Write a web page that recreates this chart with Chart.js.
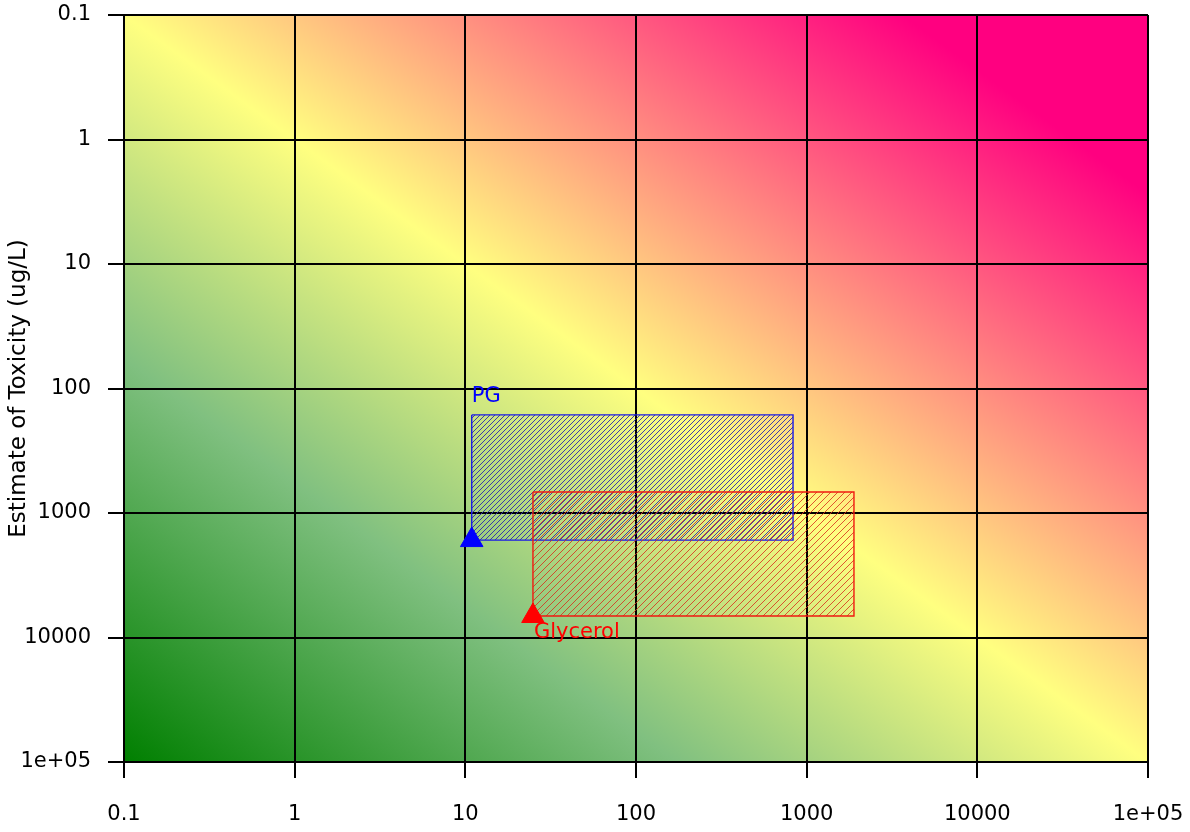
<!DOCTYPE html>
<html>
<head>
<meta charset="utf-8">
<script src="https://cdn.jsdelivr.net/npm/chart.js@4.4.1/dist/chart.umd.min.js"></script>
<style>
  html, body { margin: 0; padding: 0; background: #ffffff; }
  #wrap { width: 1190px; height: 832px; position: relative; }
</style>
</head>
<body>
<div id="wrap"><canvas id="chart" width="1190" height="832"></canvas></div>
<script>
// Axis decades and their printed labels
const xTicks = [0.1, 1, 10, 100, 1000, 10000, 100000];
const xTickLabels = ['0.1', '1', '10', '100', '1000', '10000', '1e+05'];
const yTicks = [0.1, 1, 10, 100, 1000, 10000, 100000];
const yTickLabels = ['0.1', '1', '10', '100', '1000', '10000', '1e+05'];
const yTitle = 'Estimate of Toxicity (ug/L)';

// Substances: concentration ranges (x) and toxicity ranges (y)
const substances = ['PG', 'Glycerol'];
const concLow = [10.9, 24.9];
const concHigh = [832, 1893];
const toxLow = [163, 678];
const toxHigh = [1650, 6720];
// Point estimates (triangles)
const pointConc = [10.9, 24.9];
const pointTox = [1650, 6720];

const lineColors = ['#1a1ae6', '#f01a10'];
const hatchColors = ['rgba(40,40,175,0.9)', 'rgba(215,45,25,0.8)'];
const hatchSpacing = [5, 7];
const markerColors = ['#0000ff', '#ff0000'];

function hatchPattern(color, s) {
  const c = document.createElement('canvas');
  c.width = s; c.height = s;
  const g = c.getContext('2d');
  g.strokeStyle = color;
  g.lineWidth = 1;
  g.beginPath();
  g.moveTo(0, s); g.lineTo(s, 0);
  g.moveTo(-1, 1); g.lineTo(1, -1);
  g.moveTo(s - 1, s + 1); g.lineTo(s + 1, s - 1);
  g.stroke();
  return document.getElementById('chart').getContext('2d').createPattern(c, 'repeat');
}

const rectDatasets = substances.map((name, i) => ({
  type: 'line',
  label: name + ' range',
  data: [
    { x: concLow[i], y: toxLow[i] },
    { x: concHigh[i], y: toxLow[i] },
    { x: concHigh[i], y: toxHigh[i] },
    { x: concLow[i], y: toxHigh[i] },
    { x: concLow[i], y: toxLow[i] }
  ],
  borderColor: lineColors[i],
  borderWidth: 1.4,
  backgroundColor: hatchPattern(hatchColors[i], hatchSpacing[i]),
  fill: 'shape',
  pointRadius: 0,
  tension: 0,
  order: 2 - i
}));

const pointDatasets = substances.map((name, i) => ({
  type: 'scatter',
  label: name,
  data: [{ x: pointConc[i], y: pointTox[i] }],
  pointStyle: 'triangle',
  pointRadius: 13,
  pointBackgroundColor: markerColors[i],
  pointBorderColor: markerColors[i],
  pointBorderWidth: 1,
  order: 0
}));

// Diagonal background: green (low concentration / low toxicity) to pink
const backdrop = {
  id: 'backdrop',
  beforeDraw(chart) {
    const { ctx, chartArea: a } = chart;
    const w = a.right - a.left, h = a.bottom - a.top;
    const len = Math.sqrt(w * w + h * h);
    const nx = h / len, ny = -w / len;
    const d = 2 * w * h / len;
    const g = ctx.createLinearGradient(a.left, a.bottom, a.left + nx * d, a.bottom + ny * d);
    g.addColorStop(0, '#007f00');
    g.addColorStop(0.27, '#80c080');
    g.addColorStop(0.5, '#ffff80');
    g.addColorStop(0.88, '#ff0080');
    g.addColorStop(1, '#ff0080');
    ctx.save();
    ctx.fillStyle = g;
    ctx.fillRect(a.left, a.top, w, h);
    ctx.restore();
  }
};

// Substance names next to their ranges
const nameLabels = {
  id: 'nameLabels',
  afterDatasetsDraw(chart) {
    const { ctx, scales: { x, y } } = chart;
    ctx.save();
    ctx.font = '21px "DejaVu Sans"';
    ctx.textAlign = 'left';
    ctx.textBaseline = 'middle';
    substances.forEach((name, i) => {
      ctx.fillStyle = markerColors[i];
      if (i === 0) {
        ctx.fillText(name, x.getPixelForValue(concLow[i]), y.getPixelForValue(toxLow[i]) - 18);
      } else {
        ctx.fillText(name, x.getPixelForValue(pointConc[i]) + 1, y.getPixelForValue(pointTox[i]) + 17);
      }
    });
    ctx.restore();
  }
};

const tickFont = { family: 'DejaVu Sans', size: 21 };

new Chart(document.getElementById('chart'), {
  type: 'scatter',
  data: { datasets: [...rectDatasets, ...pointDatasets] },
  plugins: [backdrop, nameLabels],
  options: {
    responsive: false,
    animation: false,
    layout: { padding: { top: 15, right: 42, left: 0, bottom: 0 } },
    plugins: { legend: { display: false }, tooltip: { enabled: false } },
    scales: {
      x: {
        type: 'logarithmic',
        min: 0.1, max: 100000,
        afterBuildTicks(s) { s.ticks = xTicks.map(v => ({ value: v })); },
        afterFit(s) { s.height = 70; s.paddingLeft = 0; s.paddingRight = 0; },
        ticks: {
          autoSkip: false, maxRotation: 0, color: '#000', font: tickFont, padding: 24,
          callback(v) { const k = xTicks.indexOf(v); return k >= 0 ? xTickLabels[k] : ''; }
        },
        grid: { color: '#000', lineWidth: 2, tickLength: 16, drawOnChartArea: true },
        border: { color: '#000', width: 2 }
      },
      y: {
        type: 'logarithmic',
        reverse: true,
        min: 0.1, max: 100000,
        afterBuildTicks(s) { s.ticks = yTicks.map(v => ({ value: v })); },
        afterFit(s) { s.width = 124; s.paddingTop = 0; s.paddingBottom = 0; },
        ticks: {
          autoSkip: false, color: '#000', font: tickFont, padding: 17,
          callback(v) { const k = yTicks.indexOf(v); return k >= 0 ? yTickLabels[k] : ''; }
        },
        title: { display: true, text: yTitle, color: '#000', font: { family: 'DejaVu Sans', size: 23 }, padding: { top: 5, bottom: 0 } },
        grid: { color: '#000', lineWidth: 2, tickLength: 16, drawOnChartArea: true },
        border: { color: '#000', width: 2 }
      }
    }
  }
});
</script>
</body>
</html>
